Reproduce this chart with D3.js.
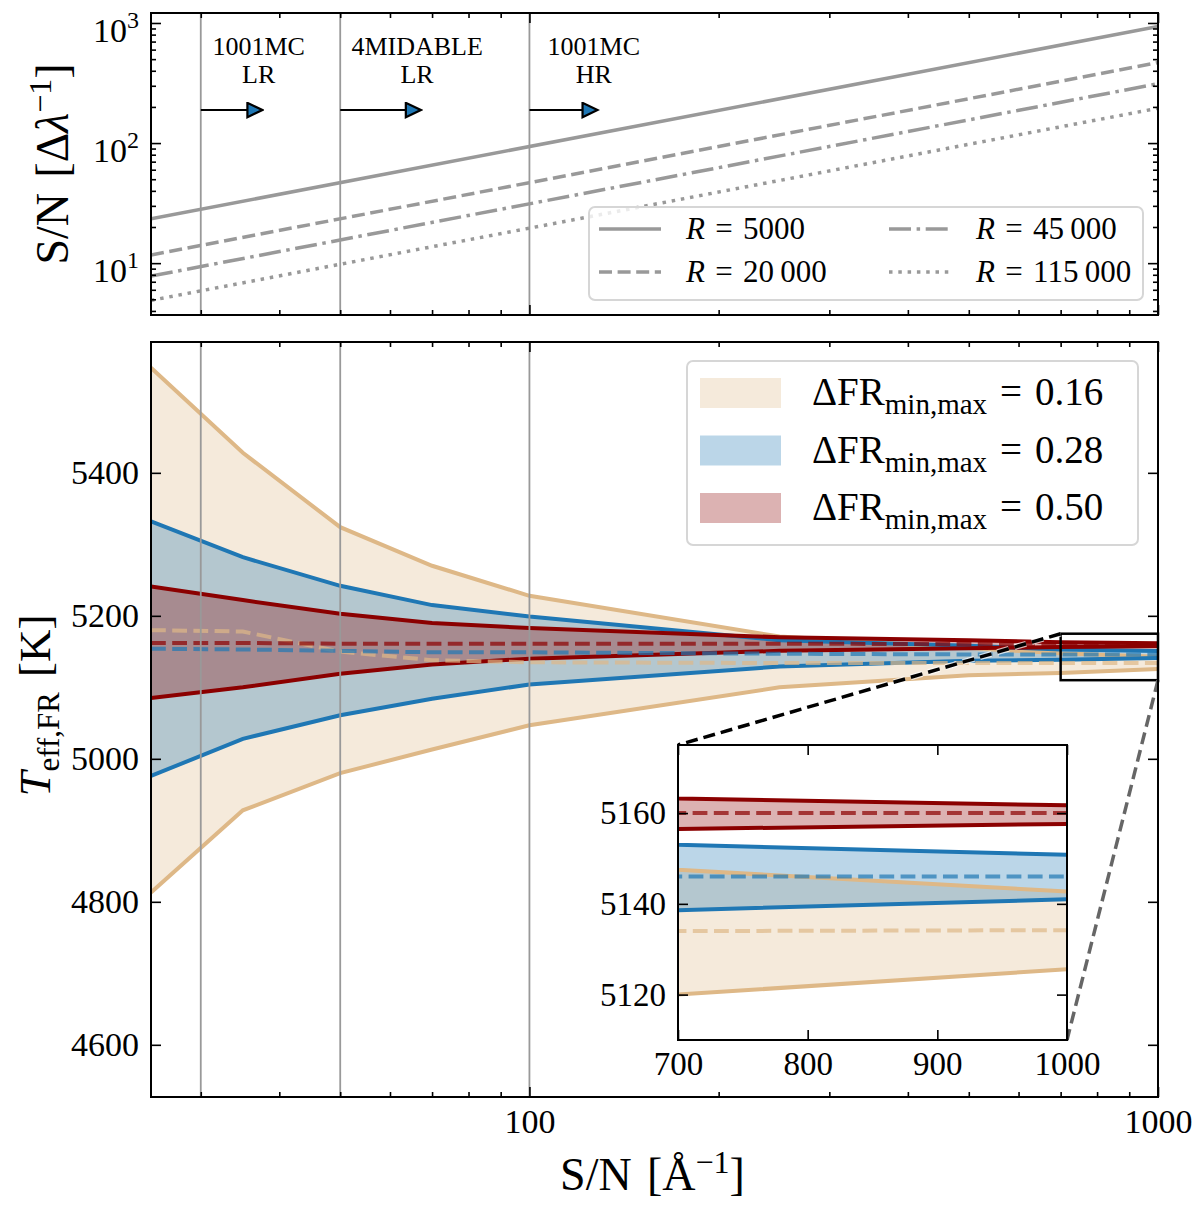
<!DOCTYPE html>
<html>
<head>
<meta charset="utf-8">
<script src="https://cdn.jsdelivr.net/npm/d3@7"></script>
<style>
  body { margin: 0; background: #fff; }
  svg { display: block; }
</style>
</head>
<body>
<script>
// ---- data ----
// top panel: S/N per resolution element vs S/N per Angstrom
const snTop = [25, 1000];
const res = ["5000", "20\u2009000", "45\u2009000", "115\u2009000"];
const snR5000 = [23.4, 935];
const snR20000 = [11.7, 468];
const snR45000 = [7.8, 312];
const snR115000 = [4.9, 195];

// survey limits and arrows
const surveyNames = [["1001MC", "LR"], ["4MIDABLE", "LR"], ["1001MC", "HR"]];
const surveySN = [30, 50, 100];
const arrowEnd = [37.5, 67, 128];

// bottom panel: Teff,FR envelopes
const snGrid = [25, 35, 50, 70, 100, 250, 500, 700, 1000];
const hi016 = [5547, 5428, 5324, 5270, 5228, 5171, 5155, 5147.5, 5142.7];
const lo016 = [4813, 4928, 4980, 5013, 5047, 5100, 5117, 5120, 5125.6];
const mid016 = [5180, 5178, 5150, 5138, 5135, 5134, 5134, 5134, 5134.2];
const hi028 = [5332, 5282, 5242, 5215, 5199, 5166, 5158, 5153, 5150.8];
const lo028 = [4976, 5028, 5061, 5084, 5104, 5129, 5137, 5138.6, 5141];
const mid028 = [5154, 5153, 5151, 5149, 5149, 5147, 5146, 5146, 5146];
const hi050 = [5241, 5222, 5203, 5190, 5183, 5170, 5166, 5163.2, 5161.7];
const lo050 = [5085, 5100, 5119, 5132, 5140, 5151, 5154.5, 5156.5, 5157.6];
const mid050 = [5162, 5162, 5161, 5161, 5161, 5161, 5160.5, 5160, 5160];
const dfrLabels = ["0.16", "0.28", "0.50"];

const yTicksMain = [4600, 4800, 5000, 5200, 5400];
const xTicksInset = [700, 800, 900, 1000];
const yTicksInset = [5120, 5140, 5160];
const zoomX = [700, 1000];
const zoomY = [5110, 5175];

// ---- style ----
const FONT = "'Liberation Serif', 'DejaVu Serif', serif";
const W = 1200, H = 1209;
const GRAY = "#999999";
const bandColors = ["#deb887", "#1f77b4", "#8b0000"];
const SP = "\u2004"; // roughly TeX's inter-word / relation space

const svg = d3.select("body").append("svg")
  .attr("width", W).attr("height", H)
  .style("background", "#fff");

const defs = svg.append("defs");
function clip(id, x, y, w, h) {
  defs.append("clipPath").attr("id", id)
    .append("rect").attr("x", x).attr("y", y).attr("width", w).attr("height", h);
}

// panel boxes
const L = 151, R = 1158;
const topP = { y0: 13, y1: 315 };
const botP = { y0: 342, y1: 1097 };
const ins = { x0: 678, x1: 1067, y0: 745, y1: 1040 };

// scales
const xTop = d3.scaleLog().domain([25, 1000]).range([L, R]);
const yTop = d3.scaleLog().domain([3.7, 1211]).range([topP.y1, topP.y0]);
const xBot = d3.scaleLog().domain([25, 1000]).range([L, R]);
const yBot = d3.scaleLinear().domain([4527, 5583]).range([botP.y1, botP.y0]);
const xIn = d3.scaleLinear().domain(zoomX).range([ins.x0, ins.x1]);
const yIn = d3.scaleLinear().domain(zoomY).range([ins.y1, ins.y0]);

clip("cTop", L, topP.y0, R - L, topP.y1 - topP.y0);
clip("cBot", L, botP.y0, R - L, botP.y1 - botP.y0);
clip("cIn", ins.x0, ins.y0, ins.x1 - ins.x0, ins.y1 - ins.y0);

function axis(axisFn, scale, tr, vals, size, fmt, fs) {
  const a = axisFn(scale).tickValues(vals).tickSize(-size).tickSizeOuter(0)
    .tickPadding(12).tickFormat(fmt || (() => ""));
  const g = svg.append("g").attr("transform", tr).call(a);
  g.select(".domain").remove();
  g.selectAll(".tick line").attr("stroke", "#000").attr("stroke-width", 1.6);
  g.selectAll(".tick text").attr("font-family", FONT)
    .attr("font-size", fs || 34).attr("fill", "#000");
  return g;
}

const minorSN = [30, 40, 50, 60, 70, 80, 90, 200, 300, 400, 500, 600, 700, 800, 900];
const majorSN = [100, 1000];

// ================= top panel =================
const gTop = svg.append("g").attr("clip-path", "url(#cTop)");
surveySN.forEach(s => {
  gTop.append("line").attr("x1", xTop(s)).attr("x2", xTop(s))
    .attr("y1", topP.y0).attr("y2", topP.y1)
    .attr("stroke", GRAY).attr("stroke-width", 1.8);
});

const lineTop = d3.line().x(d => xTop(d[0])).y(d => yTop(d[1]));
const topSeries = [
  { v: snR5000, dash: null },
  { v: snR20000, dash: "13,5.6" },
  { v: snR45000, dash: "22,5.6,3.5,5.6" },
  { v: snR115000, dash: "3.5,5.8" }
];
topSeries.forEach(s => {
  gTop.append("path").datum(snTop.map((x, i) => [x, s.v[i]]))
    .attr("d", lineTop).attr("fill", "none").attr("stroke", GRAY)
    .attr("stroke-width", 3.5).attr("stroke-dasharray", s.dash);
});

// arrows + survey labels
defs.append("marker").attr("id", "head").attr("viewBox", "0 0 10 10")
  .attr("refX", 9).attr("refY", 5).attr("markerWidth", 19).attr("markerHeight", 17)
  .attr("markerUnits", "userSpaceOnUse").attr("orient", "auto")
  .append("path").attr("d", "M0.6,0.8 L9.4,5 L0.6,9.2 Z")
  .attr("fill", "#1f77b4").attr("stroke", "#000").attr("stroke-width", 1.3);

surveySN.forEach((s, i) => {
  const ya = 110;
  gTop.append("line").attr("x1", xTop(s)).attr("x2", xTop(arrowEnd[i]))
    .attr("y1", ya).attr("y2", ya).attr("stroke", "#000").attr("stroke-width", 2.2)
    .attr("marker-end", "url(#head)");
  surveyNames[i].forEach((n, k) => {
    svg.append("text").attr("x", xTop(arrowEnd[i]) - 3).attr("y", 55 + k * 28)
      .attr("font-family", FONT).attr("font-size", 26)
      .attr("text-anchor", "middle").attr("fill", "#000").text(n);
  });
});

// top legend
const lg = svg.append("g");
lg.append("rect").attr("x", 589).attr("y", 207).attr("width", 554).attr("height", 93)
  .attr("rx", 6).attr("fill", "#fff").attr("fill-opacity", 0.8)
  .attr("stroke", "#d6d6d6").attr("stroke-width", 2);
const legPos = [[599, 229], [599, 272], [889, 229], [889, 272]];
topSeries.forEach((s, i) => {
  const [lx, ly] = legPos[i];
  lg.append("line").attr("x1", lx).attr("x2", lx + 62).attr("y1", ly).attr("y2", ly)
    .attr("stroke", GRAY).attr("stroke-width", 3.5).attr("stroke-dasharray", s.dash);
  const t = lg.append("text").attr("x", lx + 87).attr("y", ly + 10)
    .attr("font-family", FONT).attr("font-size", 31).attr("fill", "#000");
  t.append("tspan").attr("font-style", "italic").text("R");
  t.append("tspan").text(SP + "=" + SP + res[i]);
});

// top axes
const yMajTop = [10, 100, 1000];
const yMinTop = [4, 5, 6, 7, 8, 9, 20, 30, 40, 50, 60, 70, 80, 90, 200, 300, 400, 500, 600, 700, 800, 900];
const gyl = axis(d3.axisLeft, yTop, `translate(${L},0)`, yMajTop, 10, d => "10");
gyl.selectAll(".tick text").each(function (d) {
  const t = d3.select(this);
  t.text(null);
  t.append("tspan").text("10");
  t.append("tspan").attr("dy", -14).attr("font-size", 24).text(String(Math.round(Math.log10(d))));
});
gyl.selectAll(".tick text").attr("dy", "0.55em");
axis(d3.axisLeft, yTop, `translate(${L},0)`, yMinTop, 5);
axis(d3.axisRight, yTop, `translate(${R},0)`, yMajTop, 10);
axis(d3.axisRight, yTop, `translate(${R},0)`, yMinTop, 5);
axis(d3.axisBottom, xTop, `translate(0,${topP.y1})`, majorSN, 10);
axis(d3.axisBottom, xTop, `translate(0,${topP.y1})`, minorSN, 5);
axis(d3.axisTop, xTop, `translate(0,${topP.y0})`, majorSN, 10);
axis(d3.axisTop, xTop, `translate(0,${topP.y0})`, minorSN, 5);
svg.append("rect").attr("x", L).attr("y", topP.y0).attr("width", R - L)
  .attr("height", topP.y1 - topP.y0).attr("fill", "none")
  .attr("stroke", "#000").attr("stroke-width", 2);

// y label top
const ylt = svg.append("text").attr("transform", `translate(68,${(topP.y0 + topP.y1) / 2}) rotate(-90)`)
  .attr("text-anchor", "middle").attr("font-family", FONT).attr("font-size", 46).attr("fill", "#000");
ylt.append("tspan").text("S/N" + SP + "[\u0394");
ylt.append("tspan").attr("font-style", "italic").text("\u03bb");
ylt.append("tspan").attr("dy", -17).attr("font-size", 32).text("\u22121");
ylt.append("tspan").attr("dy", 17).text("]");

// ================= bottom panel =================
const bands = [
  { hi: hi016, lo: lo016, mid: mid016, c: bandColors[0] },
  { hi: hi028, lo: lo028, mid: mid028, c: bandColors[1] },
  { hi: hi050, lo: lo050, mid: mid050, c: bandColors[2] }
];

function drawBands(g, xs, ys) {
  const area = d3.area().x(d => xs(d.x)).y0(d => ys(d.lo)).y1(d => ys(d.hi));
  const line = d3.line().x(d => xs(d[0])).y(d => ys(d[1]));
  const pts = v => snGrid.map((x, i) => [x, v[i]]);
  // fills first, then envelope lines, then mean lines
  bands.forEach(b => {
    const rows = snGrid.map((x, i) => ({ x, lo: b.lo[i], hi: b.hi[i] }));
    g.append("path").datum(rows).attr("d", area).attr("fill", b.c).attr("fill-opacity", 0.3);
  });
  bands.forEach(b => {
    [b.hi, b.lo].forEach(v => {
      g.append("path").datum(pts(v)).attr("d", line)
        .attr("fill", "none").attr("stroke", b.c).attr("stroke-width", 4);
    });
  });
  bands.forEach(b => {
    g.append("path").datum(pts(b.mid)).attr("d", line)
      .attr("fill", "none").attr("stroke", b.c).attr("stroke-opacity", 0.7)
      .attr("stroke-width", 4).attr("stroke-dasharray", "14.8,6.4");
  });
}

const gBot = svg.append("g").attr("clip-path", "url(#cBot)");
drawBands(gBot, xBot, yBot);
surveySN.forEach(s => {
  gBot.append("line").attr("x1", xBot(s)).attr("x2", xBot(s))
    .attr("y1", botP.y0).attr("y2", botP.y1)
    .attr("stroke", GRAY).attr("stroke-width", 1.8);
});

// zoom rectangle + connectors
svg.append("rect").attr("x", xBot(zoomX[0])).attr("y", yBot(zoomY[1]))
  .attr("width", xBot(zoomX[1]) - xBot(zoomX[0]))
  .attr("height", yBot(zoomY[0]) - yBot(zoomY[1]))
  .attr("fill", "none").attr("stroke", "#000").attr("stroke-width", 2.5);
svg.append("line").attr("x1", xBot(zoomX[0])).attr("y1", yBot(zoomY[1]))
  .attr("x2", xIn(zoomX[0])).attr("y2", yIn(zoomY[1]))
  .attr("stroke", "#fff").attr("stroke-width", 6).attr("stroke-dasharray", "12,6")
  .attr("stroke-opacity", 0.7);
svg.append("line").attr("x1", xBot(zoomX[0])).attr("y1", yBot(zoomY[1]))
  .attr("x2", xIn(zoomX[0])).attr("y2", yIn(zoomY[1]))
  .attr("stroke", "#000").attr("stroke-width", 3.5).attr("stroke-dasharray", "12,6");
svg.append("line").attr("x1", xBot(zoomX[1])).attr("y1", yBot(zoomY[0]))
  .attr("x2", xIn(zoomX[1])).attr("y2", yIn(zoomY[0]))
  .attr("stroke", "#666").attr("stroke-width", 3.5).attr("stroke-dasharray", "12,6");

// bottom axes
axis(d3.axisLeft, yBot, `translate(${L},0)`, yTicksMain, 10, d3.format("d"));
axis(d3.axisRight, yBot, `translate(${R},0)`, yTicksMain, 10);
axis(d3.axisBottom, xBot, `translate(0,${botP.y1})`, majorSN, 10, d3.format("d"));
axis(d3.axisBottom, xBot, `translate(0,${botP.y1})`, minorSN, 5);
axis(d3.axisTop, xBot, `translate(0,${botP.y0})`, majorSN, 10);
axis(d3.axisTop, xBot, `translate(0,${botP.y0})`, minorSN, 5);
svg.append("rect").attr("x", L).attr("y", botP.y0).attr("width", R - L)
  .attr("height", botP.y1 - botP.y0).attr("fill", "none")
  .attr("stroke", "#000").attr("stroke-width", 2);

// labels
const ylb = svg.append("text").attr("transform", `translate(50,${(botP.y0 + botP.y1) / 2 - 14}) rotate(-90)`)
  .attr("text-anchor", "middle").attr("font-family", FONT).attr("font-size", 45).attr("fill", "#000");
ylb.append("tspan").attr("font-style", "italic").text("T");
ylb.append("tspan").attr("dy", 9).attr("font-size", 31).text("eff,FR");
ylb.append("tspan").attr("dy", -9).text(SP + "[K]");

const xl = svg.append("text").attr("x", (L + R) / 2 - 2).attr("y", 1190)
  .attr("text-anchor", "middle").attr("font-family", FONT).attr("font-size", 46).attr("fill", "#000");
xl.append("tspan").text("S/N" + SP + "[\u00c5");
xl.append("tspan").attr("dy", -17).attr("font-size", 32).text("\u22121");
xl.append("tspan").attr("dy", 17).text("]");

// bottom legend
const lb = svg.append("g");
lb.append("rect").attr("x", 687).attr("y", 361).attr("width", 451).attr("height", 184)
  .attr("rx", 6).attr("fill", "#fff").attr("fill-opacity", 0.8)
  .attr("stroke", "#d6d6d6").attr("stroke-width", 2);
bands.forEach((b, i) => {
  const cy = 393 + i * 57.5;
  lb.append("rect").attr("x", 700).attr("y", cy - 15).attr("width", 81).attr("height", 30)
    .attr("fill", b.c).attr("fill-opacity", 0.3);
  const t = lb.append("text").attr("x", 812).attr("y", cy + 12)
    .attr("font-family", FONT).attr("font-size", 39).attr("fill", "#000");
  t.append("tspan").text("\u0394FR");
  t.append("tspan").attr("dy", 9).attr("font-size", 29).text("min,max");
  t.append("tspan").attr("dy", -9).text(SP + "=" + SP + dfrLabels[i]);
});

// ================= inset =================
svg.append("rect").attr("x", ins.x0).attr("y", ins.y0)
  .attr("width", ins.x1 - ins.x0).attr("height", ins.y1 - ins.y0).attr("fill", "#fff");
const gIn = svg.append("g").attr("clip-path", "url(#cIn)");
drawBands(gIn, xIn, yIn);
axis(d3.axisLeft, yIn, `translate(${ins.x0},0)`, yTicksInset, 10, d3.format("d"), 33);
axis(d3.axisRight, yIn, `translate(${ins.x1},0)`, yTicksInset, 10);
axis(d3.axisBottom, xIn, `translate(0,${ins.y1})`, xTicksInset, 10, d3.format("d"), 33);
axis(d3.axisTop, xIn, `translate(0,${ins.y0})`, xTicksInset, 10);
svg.append("rect").attr("x", ins.x0).attr("y", ins.y0)
  .attr("width", ins.x1 - ins.x0).attr("height", ins.y1 - ins.y0)
  .attr("fill", "none").attr("stroke", "#000").attr("stroke-width", 2);
</script>
</body>
</html>
